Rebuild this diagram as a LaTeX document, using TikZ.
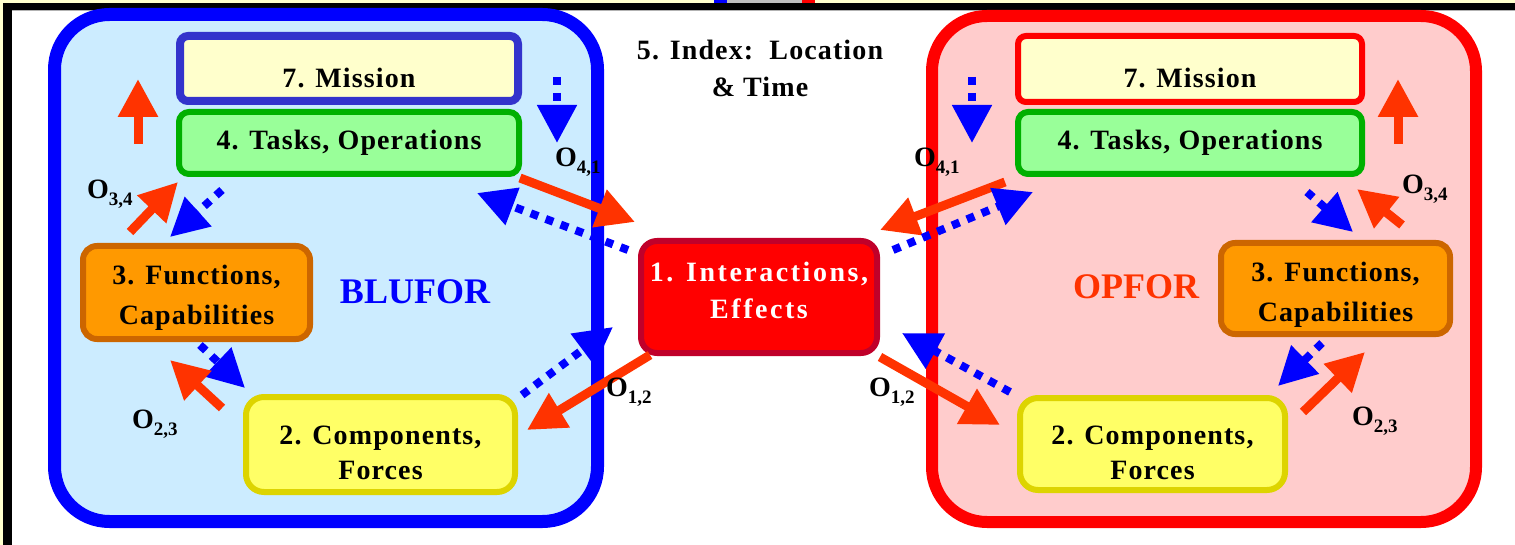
\documentclass[tikz,border=0pt]{standalone}
\usepackage{fontspec}
\setmainfont{Liberation Serif}
\newfontfamily\boxfont{Liberation Serif}[LetterSpace=4]
\newfontfamily\widefont{Liberation Serif}[LetterSpace=9]
\usepackage{xcolor}
\usepackage{tikz}
\usetikzlibrary{arrows.meta, positioning, calc}
\definecolor{pagebg}{HTML}{FFFFCC}
\definecolor{bluline}{HTML}{0000FF}
\definecolor{blufill}{HTML}{CCECFF}
\definecolor{opline}{HTML}{FF0000}
\definecolor{opfill}{HTML}{FFCCCC}
\definecolor{missionfill}{HTML}{FFFFCC}
\definecolor{missionline}{HTML}{3333CC}
\definecolor{taskline}{HTML}{00B000}
\definecolor{taskfill}{HTML}{99FF99}
\definecolor{funcline}{HTML}{CC6600}
\definecolor{funcfill}{HTML}{FF9900}
\definecolor{compline}{HTML}{DDD400}
\definecolor{compfill}{HTML}{FFFF66}
\definecolor{effline}{HTML}{C0002A}
\definecolor{efffill}{HTML}{FF0000}
\definecolor{effect}{HTML}{FF3300}
\definecolor{feedblue}{HTML}{0000FF}
\newcommand{\olab}[1]{O\raisebox{-7pt}{\fontsize{19}{19}\selectfont #1}}
\tikzset{
  panel/.style={
    rounded corners=55pt,
    line width=13pt
  },
  topic/.style={
    rounded corners=10pt,
    line width=6pt,
    align=center,
    inner sep=0pt,
    font=\boxfont\bfseries\fontsize{28}{40}\selectfont
  },
  effect link/.style={
    -{Triangle[width=38pt,length=38pt]},
    line width=9pt,
    color=effect
  },
  feedback/.style={
    -{Triangle[width=38pt,length=38pt]},
    line width=8pt,
    color=feedblue,
    dash pattern=on 8pt off 8pt
  },
  olabel/.style={
    anchor=west, inner sep=0pt,
    font=\bfseries\fontsize{28}{28}\selectfont
  },
  side name/.style={
    font=\bfseries\fontsize{36}{36}\selectfont
  }
}

\begin{document}
\begin{tikzpicture}[x=1pt, y=-1pt]
  \useasboundingbox (0,0) rectangle (1515,545);
  % Frame
  \fill[pagebg] (0,0) rectangle (1515,545);
  \fill[black] (3,3) rectangle (1515,545);
  \fill[white] (12,11) rectangle (1515,545);
  \fill[black!30] (12,10) rectangle (1515,11);
  \fill[bluline] (714,0) rectangle (727,3);
  \fill[black!25] (727,0) rectangle (802,3);
  \fill[opline] (802,0) rectangle (815,3);

  % Panels
  \draw[panel, draw=bluline, fill=blufill] (54.5,14.5) rectangle (597.5,521.5);
  \draw[panel, line width=12pt, draw=opline, fill=opfill] (932,16) rectangle (1476,522);

  % Blocks
  \node[topic, draw=missionline, line width=8pt, rounded corners=8pt, fill=missionfill,
        minimum width=338pt, minimum height=65pt, text height=38pt, text depth=0pt] (missionB) at (349,68.5) {7. Mission};
  \node[topic, draw=taskline, fill=taskfill, text height=19pt, text depth=6pt,
        minimum width=340pt, minimum height=62pt] (tasksB) at (349,143) {4. Tasks, Operations};
  \node[topic, draw=funcline, fill=funcfill, rounded corners=14pt, text height=64pt, text depth=0pt,
        minimum width=227pt, minimum height=93pt] (funcB) at (196.5,292.5) {3. Functions,\\Capabilities};
  \node[topic, draw=compline, fill=compfill, rounded corners=18pt, text height=70pt, text depth=0pt,
        font=\boxfont\bfseries\fontsize{28}{35}\selectfont,
        minimum width=269pt, minimum height=95pt] (compB) at (380.5,444.5) {2. Components,\\Forces};

  \node[topic, draw=opline, fill=missionfill, rounded corners=8pt, text height=38pt, text depth=0pt,
        minimum width=344pt, minimum height=66pt] (missionO) at (1190,69) {7. Mission};
  \node[topic, draw=taskline, fill=taskfill, text height=19pt, text depth=6pt,
        minimum width=344pt, minimum height=62pt] (tasksO) at (1190,143) {4. Tasks, Operations};
  \node[topic, draw=funcline, fill=funcfill, rounded corners=14pt, text height=66pt, text depth=0pt,
        minimum width=229pt, minimum height=91pt] (funcO) at (1335.5,288.5) {3. Functions,\\Capabilities};
  \node[topic, draw=compline, fill=compfill, rounded corners=18pt, text height=71pt, text depth=0pt,
        font=\boxfont\bfseries\fontsize{28}{35}\selectfont,
        minimum width=265pt, minimum height=92pt] (compO) at (1152.5,444) {2. Components,\\Forces};

  \node[topic, draw=effline, fill=efffill, text=white, rounded corners=16pt, text height=43pt, text depth=0pt,
        font=\widefont\bfseries\fontsize{28}{37}\selectfont,
        minimum width=236pt, minimum height=112pt] (effects) at (759,297) {1. Interactions,\\Effects};
  \node[topic, draw=none, text height=55pt, text depth=0pt,
        font=\boxfont\bfseries\fontsize{28}{37}\selectfont] (index) at (760,69) {5. Index:\ \ Location\\\& Time};

  \node[side name, text=bluline] (blufor) at (415,292) {BLUFOR};
  \node[side name, text=effect] (opfor) at (1136,287) {OPFOR};

  % Arrow ends
  \coordinate (upB0) at (138,144);   \coordinate (upB1) at (138,79);
  \coordinate (dnB0) at (557,77);    \coordinate (dnB1) at (557,143);
  \coordinate (upO0) at (1398,144);  \coordinate (upO1) at (1398,79);
  \coordinate (dnO0) at (972,77);    \coordinate (dnO1) at (972,143);

  % Mission links
  \draw[effect link] (upB0) -- (upB1);
  \draw[feedback] (dnB0) -- (dnB1);
  \draw[effect link] (upO0) -- (upO1);
  \draw[feedback] (dnO0) -- (dnO1);

  % BLUFOR cycle
  \draw[effect link] (130,232) -- (178,182);
  \draw[feedback] (222,190) -- (170,237);
  \draw[effect link] (520,178) -- (635,222);
  \draw[feedback] (628,250) -- (477,193);
  \draw[feedback] (522,395) -- (613,327);
  \draw[effect link] (650,355) -- (527,430);
  \draw[feedback] (200,345) -- (245,388);
  \draw[effect link] (222,408) -- (170,360);

  % OPFOR cycle
  \draw[effect link] (1402,225) -- (1357,189);
  \draw[feedback] (1307,192) -- (1353,232);
  \draw[effect link] (1005,182) -- (880,230);
  \draw[feedback] (893,250) -- (1033,192);
  \draw[feedback] (1010,392) -- (902,333);
  \draw[effect link] (880,357) -- (1000,425);
  \draw[feedback] (1322,343) -- (1278,386);
  \draw[effect link] (1303,412) -- (1365,352);

  % Labels
  \node[olabel] (o34B) at (87,194) {\olab{3,4}};
  \node[olabel] (o41B) at (555,162) {\olab{4,1}};
  \node[olabel] (o12B) at (606,392) {\olab{1,2}};
  \node[olabel] (o23B) at (132,424) {\olab{2,3}};
  \node[olabel] (o41O) at (914,162) {\olab{4,1}};
  \node[olabel] (o12O) at (869,392) {\olab{1,2}};
  \node[olabel] (o34O) at (1402,189) {\olab{3,4}};
  \node[olabel] (o23O) at (1352,421) {\olab{2,3}};
\end{tikzpicture}
\end{document}
